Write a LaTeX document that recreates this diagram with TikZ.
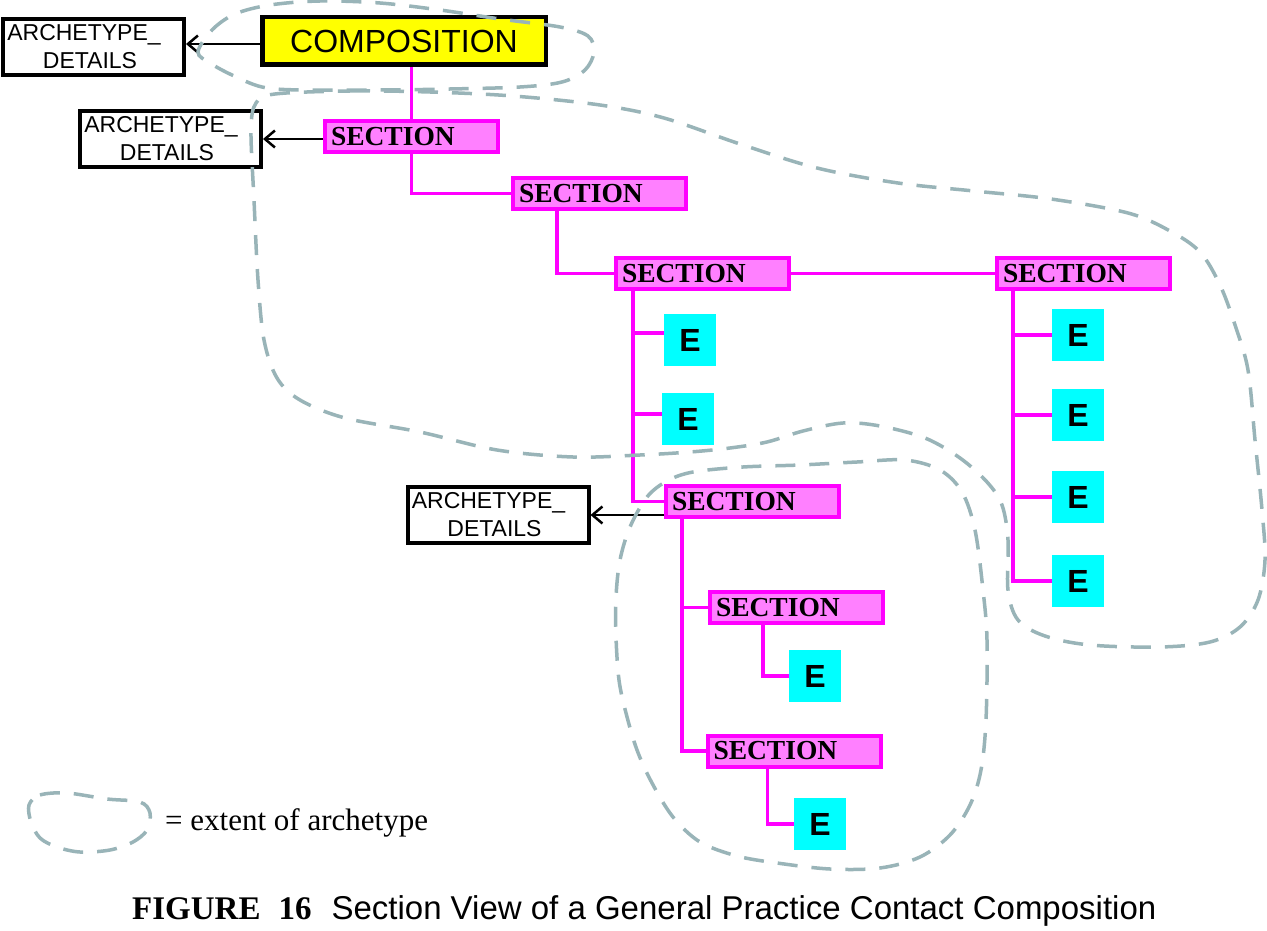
\documentclass[tikz,border=0pt]{standalone}
\usepackage{fontspec}
\setmainfont{Liberation Serif}
\newfontfamily\arialf{Liberation Sans}
\usetikzlibrary{arrows.meta}
\definecolor{mag}{RGB}{255,0,255}
\definecolor{pinkf}{RGB}{255,128,255}
\definecolor{cyanf}{RGB}{0,255,255}
\definecolor{yel}{RGB}{255,255,0}
\definecolor{dashc}{RGB}{153,180,184}
\newcommand\secttext{\makebox[161pt][l]{SECTION}}
\newcommand\adtext{ARCHETYPE\_\hspace*{19pt}\\DETAILS\hspace*{7pt}}
\begin{document}
\begin{tikzpicture}[x=1pt,y=-1pt,
  adbox/.style={draw=black, line width=4pt, fill=white, minimum width=181pt, minimum height=56pt, inner sep=0pt, align=center, font=\arialf\fontsize{23}{28}\selectfont},
  compbox/.style={draw=black, line width=4.5pt, fill=yel, minimum width=283.5pt, minimum height=47.5pt, inner sep=0pt, font=\arialf\fontsize{32}{36}\selectfont},
  secbox/.style={draw=mag, line width=4pt, fill=pinkf, minimum width=173pt, minimum height=31pt, inner sep=0pt, font=\bfseries\fontsize{27.5}{30}\selectfont},
  ebox/.style={fill=cyanf, minimum width=52pt, minimum height=52pt, inner sep=0pt, font=\arialf\bfseries\fontsize{32}{36}\selectfont},
  link/.style={draw=mag, line width=3.5pt},
  arr/.style={draw=black, line width=2.5pt, -{Straight Barb[length=10pt,width=17pt]}},
  extent/.style={draw=dashc, line width=3.5pt, dash pattern=on 20pt off 14pt},
]
\useasboundingbox[fill=white] (0,0) rectangle (1267,931);

% nodes
\node[adbox] (ad1) at (93.5,47) {\adtext};
\node[compbox] (comp) at (404,41) {COMPOSITION};
\node[adbox] (ad2) at (170.5,139) {\adtext};
\node[secbox] (sec1) at (411.5,136.5) {\secttext};
\node[secbox] (sec2) at (599.5,193.5) {\secttext};
\node[secbox] (sec3) at (702.5,273.5) {\secttext};
\node[secbox] (sec4) at (1083.5,273.5) {\secttext};
\node[ebox] (e1) at (690,340) {E};
\node[ebox] (e2) at (688,419) {E};
\node[secbox] (sec5) at (752.5,501.5) {\secttext};
\node[adbox] (ad3) at (498,515) {\adtext};
\node[secbox] (sec6) at (796.5,607.5) {\secttext};
\node[ebox] (e6) at (815,676) {E};
\node[secbox] (sec7) at (794,751) {\secttext};
\node[ebox] (e7) at (820,824) {E};
\node[ebox] (e8) at (1078,335) {E};
\node[ebox] (e9) at (1078,415) {E};
\node[ebox] (e10) at (1078,497) {E};
\node[ebox] (e11) at (1078,581) {E};

% connectors
\draw[link, line width=2.5pt] (comp.south -| sec1.north) -- (sec1.north);
\draw[link] (sec1.south) |- (sec2.west);
\draw[link] ([xshift=46pt]sec2.south west) |- (sec3.west);
\draw[link] (sec3.east) -- (sec4.west);

\coordinate (t3) at ([xshift=19pt]sec3.south west);
\coordinate (b1) at ([yshift=7pt]e1.west);
\coordinate (b2) at ([yshift=5pt]e2.west);
\draw[link] (t3) |- (sec5.west);
\draw[link] (b1 -| t3) -- (b1);
\draw[link] (b2 -| t3) -- (b2);

\coordinate (t4) at ([xshift=18pt]sec4.south west);
\draw[link] (t4) |- (e11.west);
\draw[link] (e8.west -| t4) -- (e8.west);
\draw[link] (e9.west -| t4) -- (e9.west);
\draw[link] (e10.west -| t4) -- (e10.west);

\coordinate (t5) at ([xshift=18pt]sec5.south west);
\draw[link] (t5) |- (sec7.west);
\draw[link] (sec6.west -| t5) -- (sec6.west);
\draw[link] ([xshift=55pt]sec6.south west) |- (e6.west);
\draw[link] ([xshift=62pt]sec7.south west) |- (e7.west);

\coordinate (a1) at ([yshift=-3pt]comp.west);
\draw[arr] (a1) -- (a1 -| ad1.east);
\draw[arr] (sec1.west |- ad2.east) -- (ad2.east);
\draw[arr] (sec5.west |- ad3.east) -- (ad3.east);

% extents
\draw[extent] plot[smooth cycle, tension=0.55] coordinates {
(198,52) (212,30) (235,14) (270,5) (320,1) (380,3) (440,10) (500,19) (560,27) (588,36) (594,52) (585,70) (562,82) (520,87) (450,89) (380,90) (300,90) (262,87) (232,75) (210,63)};

\draw[extent] plot[smooth cycle, tension=0.55] coordinates {
(275,94) (350,91) (430,92) (513,96) (600,105) (664,118) (740,144) (817,168) (898,183) (974,191) (1051,199) (1128,213) (1170,231) (1200,252) (1220,285) (1235,325) (1248,370) (1255,440) (1262,510) (1265,560) (1258,600) (1240,627) (1210,642) (1160,647) (1090,645) (1045,636) (1018,620) (1008,590) (1008,540) (1002,505) (987,482) (960,458) (925,438) (880,426) (843,423) (803,431) (767,442) (730,448) (690,452) (640,455) (573,457) (497,450) (420,432) (345,418) (300,400) (277,378) (264,340) (258,280) (254,200) (251,130) (256,103)};

\draw[extent] plot[smooth cycle, tension=0.55] coordinates {
(630,527) (647,497) (667,481) (693,472) (743,467) (800,465) (857,462) (905,460) (940,470) (962,492) (975,530) (983,590) (987,640) (986,720) (981,770) (970,805) (950,835) (920,857) (880,868) (830,869) (777,863) (737,856) (700,842) (673,817) (652,783) (637,750) (626,713) (619,680) (616,637) (616,597) (620,560)};

% legend
\draw[extent] plot[smooth cycle, tension=0.55] coordinates {
(29,805) (40,795) (67,793) (107,799) (140,802) (150,813) (147,830) (133,842) (110,850) (80,852) (57,847) (40,838) (31,822)};
\node[anchor=base west, inner sep=0pt, font=\fontsize{31}{34}\selectfont] (legtxt) at (165,830) {= extent of archetype};

% caption
\node[anchor=base west, inner sep=0pt, font=\fontsize{33}{36}\selectfont] (cap) at (132,919)
  {{\bfseries FIGURE\hspace{18pt}16}\hspace{20pt}{\arialf Section View of a General Practice Contact Composition}};
\end{tikzpicture}
\end{document}
